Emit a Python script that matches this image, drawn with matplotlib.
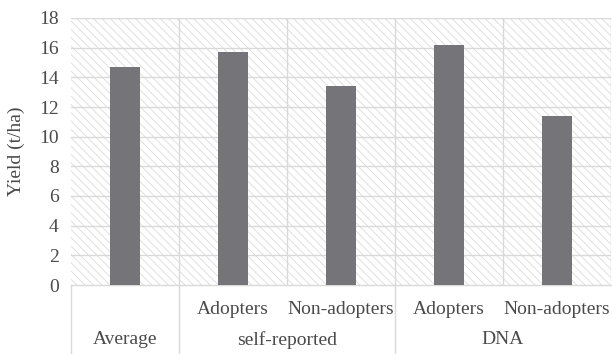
import matplotlib.pyplot as plt
from matplotlib.patches import Rectangle
from matplotlib.transforms import blended_transform_factory

# Data
sub_labels = ['', 'Adopters', 'Non-adopters', 'Adopters', 'Non-adopters']
groups = ['Average', 'self-reported', 'DNA']
group_spans = [(0, 1), (1, 3), (3, 5)]
yields = [14.7, 15.7, 13.4, 16.2, 11.4]

plt.rcParams['font.family'] = ['Liberation Serif']
plt.rcParams['hatch.linewidth'] = 0.6
plt.rcParams['hatch.color'] = '#dcdcdc'

text_col = '#4a4a4a'
grid_col = '#d9d9d9'
fs = 14

fig = plt.figure(figsize=(6.12, 3.54), dpi=100)
ax = fig.add_axes([71 / 612, 1 - 285 / 354, 540 / 612, 267 / 354])

x = list(range(len(yields)))
ax.set_xlim(-0.5, len(yields) - 0.5)
ax.set_ylim(0, 18)

# hatched background
ax.add_patch(Rectangle((0, 0), 1, 1, transform=ax.transAxes, facecolor='white',
                       edgecolor='#dcdcdc', hatch='\\\\\\\\', linewidth=0, zorder=0))

ax.bar(x, yields, width=0.28, color='#757579', zorder=3)

for v in range(2, 19, 2):
    ax.axhline(v, color=grid_col, linewidth=1, zorder=1)
for b in range(1, len(yields)):
    ax.axvline(b - 0.5, color=grid_col, linewidth=1, zorder=1)
ax.axvline(len(yields) - 0.5, color=grid_col, linewidth=1, zorder=1)

for s in ['top', 'right', 'left']:
    ax.spines[s].set_visible(False)
ax.spines['bottom'].set_color(grid_col)
ax.spines['bottom'].set_linewidth(1)

ax.set_yticks(range(0, 19, 2))
ax.tick_params(axis='y', length=0, labelsize=fs, labelcolor=text_col, pad=9)
ax.set_xticks([])
ax.set_ylabel('Yield (t/ha)', fontsize=fs, color=text_col, labelpad=10)

trans = blended_transform_factory(ax.transData, ax.transAxes)
for i, lab in enumerate(sub_labels):
    if lab:
        ax.text(i, -0.09, lab, transform=trans, ha='center', va='center',
                fontsize=fs, color=text_col)
for g, (a, b) in zip(groups, group_spans):
    ax.text((a + b - 1) / 2, -0.205, g, transform=trans, ha='center', va='center',
            fontsize=fs, color=text_col)

# separators below axis
for sep in [-0.5, 0.5, 2.5]:
    ax.plot([sep, sep], [0, -0.27], transform=trans, color=grid_col,
            linewidth=1, clip_on=False)

fig.savefig('out.png', dpi=100)
